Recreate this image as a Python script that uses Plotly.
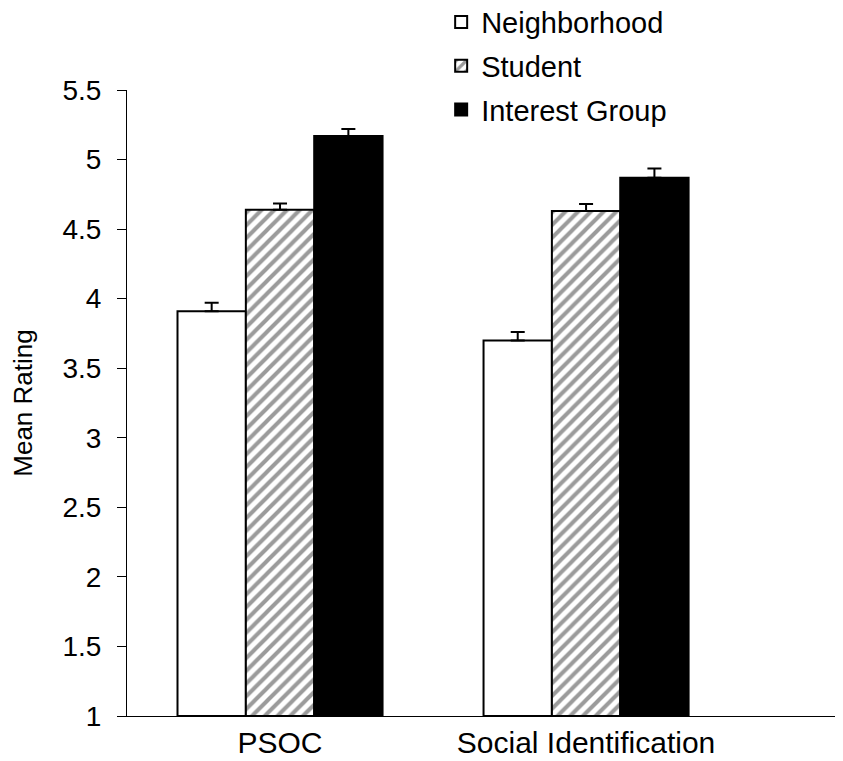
import plotly.graph_objects as go

categories = ["PSOC", "Social Identification"]
series_names = ["Neighborhood", "Student", "Interest Group"]
neighborhood = [3.91, 3.70]
student = [4.64, 4.63]
interest = [5.17, 4.87]
neighborhood_err = [0.06, 0.06]
student_err = [0.045, 0.05]
interest_err = [0.05, 0.065]
y_ticks = [1, 1.5, 2, 2.5, 3, 3.5, 4, 4.5, 5, 5.5]
y_tick_labels = ["1", "1.5", "2", "2.5", "3", "3.5", "4", "4.5", "5", "5.5"]

FONT = "Arial, 'Liberation Sans', sans-serif"
xpos = list(range(len(categories)))

styles = [
    dict(color="white", pattern=None),
    dict(color="white", pattern=dict(shape="/", fgcolor="#383838", bgcolor="white", size=9, solidity=0.45)),
    dict(color="black", pattern=None),
]
values = [neighborhood, student, interest]
errs = [neighborhood_err, student_err, interest_err]

fig = go.Figure()
for name, vals, er, st in zip(series_names, values, errs, styles):
    marker = dict(color=st["color"], line=dict(color="black", width=2))
    if st["pattern"]:
        marker["pattern"] = st["pattern"]
    fig.add_trace(go.Bar(
        x=xpos, y=[v - 1 for v in vals], base=1, name=name, legendgroup=name,
        marker=marker,
        error_y=dict(type="data", array=er, arrayminus=[0] * len(er), symmetric=False,
                     color="black", thickness=2, width=7),
    ))

fig.update_layout(
    width=843, height=761,
    margin=dict(l=119, r=10, t=82, b=53, autoexpand=False),
    plot_bgcolor="white", paper_bgcolor="white",
    barmode="group", bargap=0.33, bargroupgap=0,
    font=dict(family=FONT, size=28, color="black"),
    showlegend=True,
    legend=dict(x=0.44, y=1.149, xanchor="left", yanchor="top",
                font=dict(size=29, family=FONT), tracegroupgap=3,
                itemwidth=30, bgcolor="rgba(0,0,0,0)"),
    xaxis=dict(range=[-0.5, 1.833], tickvals=xpos, ticktext=categories,
               showline=True, linecolor="black", linewidth=1, ticks="",
               showgrid=False, zeroline=False, tickfont=dict(size=30),
               automargin=False),
    yaxis=dict(range=[1, 5.5], tickvals=y_ticks, ticktext=y_tick_labels,
               showline=True, linecolor="black", linewidth=1, ticks="outside",
               ticklen=9, tickcolor="black", showgrid=False, zeroline=False,
               tickfont=dict(size=28), automargin=False, ticklabelstandoff=10,
               title=dict(text="Mean Rating", font=dict(size=26), standoff=23)),
)

fig.write_html("out.html")
